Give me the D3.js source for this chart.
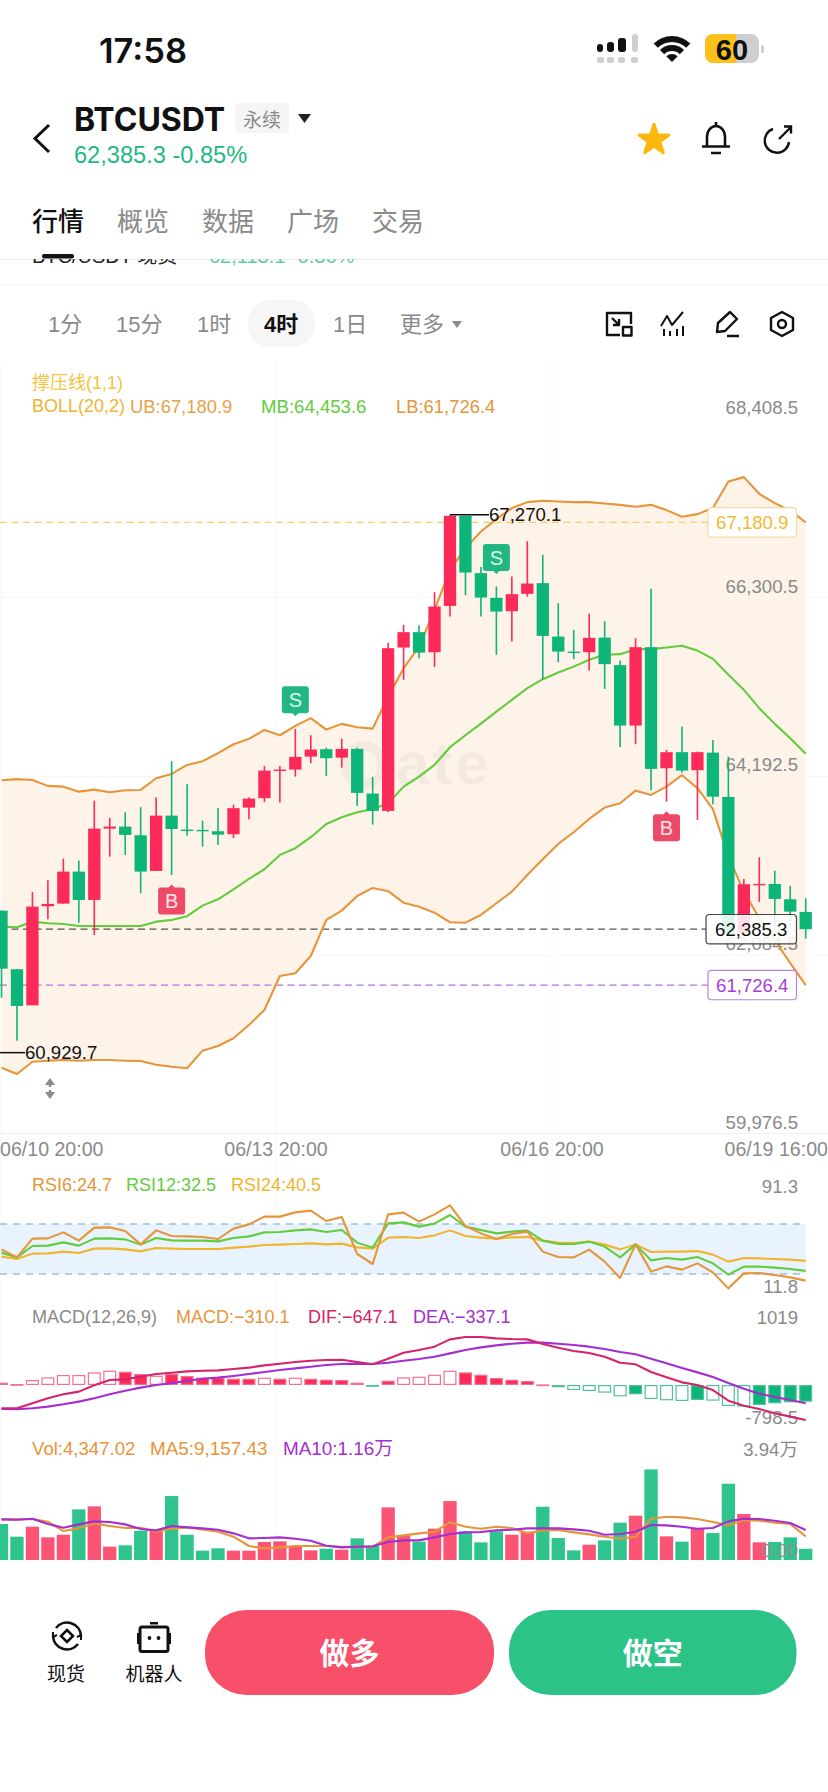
<!DOCTYPE html>
<html lang="zh">
<head>
<meta charset="utf-8">
<title>BTCUSDT 4时</title>
<script src="https://cdn.jsdelivr.net/npm/d3@7/dist/d3.min.js"></script>
<style>
html,body{margin:0;padding:0;background:#fff;overflow:hidden}
svg{display:block}
text{font-family:"Liberation Sans","Noto Sans CJK SC",sans-serif}
</style>
</head>
<body>
<svg id="app" width="828" height="1792" viewBox="0 0 828 1792"></svg>
<script>
// 4h candles, oldest first
const candleOpen = [62604,61913,61488,62656,62687,63064,62730,63571,63595,63493,63072,63724,63559,63556,63540,63505,63819,63930,64255,64267,64420,64507,64408,64511,63984,63780,65706,65887,65651,66197,67259,66583,66292,66135,66339,66465,65835,65658,65651,65823,65498,64786,65710,64283,64472,64260,64467,63945,62341,62913,62919,62738,62589];
const candleHigh = [62604,61915,62825,62962,63217,63194,63901,63697,63764,63823,63937,64366,64095,63665,63815,63854,63937,64310,64310,64747,64672,64526,64632,64526,64181,65761,65973,65970,66359,67270.1,67259,66654,66425,66543,66960,66799,66229,65914,66103,66017,65552,65816,66398,64499,64774,64479,64617,64420,62978,63234,63076,62895,62750];
const candleLow = [61578,61071,61488,62503,62687,62462,62317,63241,63261,62809,63072,63025,63488,63359,63379,63461,63682,63882,63878,64184,64342,64192,64290,63839,63618,63768,65325,65581,65478,66071,66324,66071,65620,65776,66307,65333,65533,65569,65434,65218,64534,64566,64024,63889,64231,63674,63859,62341,62341,62706,62415,62415,62274];
const candleClose = [61920,61480,62651,62683,63064,62730,63571,63595,63497,63064,63724,63567,63552,63547,63500,63812,63925,64255,64267,64417,64503,64401,64511,63992,63780,65698,65887,65646,66189,67259,66590,66295,66130,66335,66460,65843,65658,65651,65820,65510,64786,65710,64275,64472,64255,64472,63948,62341,62915,62919,62742,62592,62385.3];

// Bollinger bands
const bollUpper = [64142,64154,64145,64075,64066,64007,64031,64000,64024,64027,64165,64216,64322,64366,64460,64566,64629,64735,64672,64782,64873,64739,64806,64767,64750,65128,65463,65717,66150,66622,66878,67074,67220,67350,67420,67436,67428,67420,67420,67404,67388,67365,67388,67326,67247,67279,67350,67663,67715,67518,67408,67321,67180.9];
const bollMid = [62415,62408,62474,62455,62447,62423,62423,62423,62423,62423,62474,62494,62538,62663,62738,62856,62978,63092,63261,63340,63470,63626,63705,63764,63800,63870,64066,64184,64322,64531,64672,64809,64951,65089,65227,65333,65411,65481,65561,65620,65628,65687,65687,65706,65726,65670,65572,65384,65207,64991,64806,64637,64453.6];
const bollLower = [60752,60678,60823,60835,60843,60835,60843,60843,60835,60831,60788,60764,60745,60953,61008,61099,61256,61433,61834,61866,62070,62494,62604,62777,62872,62833,62698,62651,62580,62467,62462,62553,62691,62828,63025,63210,63391,63528,63685,63819,63870,64019,63968,64066,64201,64047,63800,63241,62828,62514,62258,61984,61726.4];

// RSI
const rsi6 = [49.7,43.3,58.3,58.5,63.3,56.7,67.1,67.3,64.4,53.7,64.9,60.4,60.1,59.6,58,66.3,69.7,75.9,75.9,79.3,80.7,72.4,75.6,46,38,77.7,79.1,71.9,77.7,84.9,68.4,62.5,58,62,63.9,47.9,43.6,43.3,49.5,39.9,26.8,53.7,31.9,36.1,33.5,38.5,31.3,18.5,30.5,30.8,29.2,27.3,24.7];
const rsi12 = [47.1,43.3,52.4,52.7,55.3,52.7,58.3,58.5,57.7,53.5,58.8,56.9,56.7,56.7,56.1,58.8,60.1,63.3,63.6,64.9,65.7,63.6,65.2,55.1,51.1,70.5,71.3,67.9,70.3,77.2,67.9,65.2,62.5,63.9,64.7,56.7,54,54,55.9,51.9,43.3,53.7,40.9,42.8,41.5,43.6,38.5,29.5,35.9,35.9,35.1,34,32.5];
const rsi24 = [43.9,42,46.3,46.5,47.9,46.8,50.3,50.5,49.7,48.1,50.8,50.3,50,50,50,51.1,51.9,53.2,53.5,54,54.5,53.7,54.3,51.3,50.3,59.1,59.6,58.8,60.9,64.9,60.4,59.1,58.3,59.3,59.6,56.7,55.1,54.8,55.9,53.5,49.7,53.7,47.6,47.9,47.9,48.4,45.5,39.9,42.8,42.5,42,41.5,40.5];

// MACD
const dif = [-432,-432,-339,-247,-173,-123,-6,93,105,154,204,228,253,265,271,296,321,364,395,426,450,463,469,426,383,487,598,648,710,845,888,888,864,851,845,759,691,629,592,524,413,383,241,142,49,0,-93,-290,-383,-444,-524,-586,-647.1];
const dea = [-444,-450,-432,-401,-358,-308,-247,-173,-105,-49,0,31,80,117,136,167,204,241,278,308,339,370,389,395,389,413,450,481,524,586,648,697,734,765,784,784,765,740,710,666,611,568,487,401,315,234,148,37,-68,-160,-222,-278,-337.1];
const macdHist = [43,18,93,142,185,185,234,265,247,204,173,204,167,136,136,117,117,136,117,136,117,99,93,43,-6,80,142,154,191,265,234,191,130,99,74,12,-43,-93,-111,-142,-210,-173,-259,-284,-296,-278,-290,-389,-401,-370,-339,-321,-310.1];
const macdSolidBars = [8,9,11,12,13,14,15,16,18,20,21,22,23,25,30,31,32,33,34,36,41,45,49,50,51,52];

// Volume
const volume = [13930,9030,12900,8770,9800,19610,20770,5160,5680,11350,11350,24770,9800,3610,4520,3610,3610,6970,7220,5420,3740,4390,4000,8390,5420,20380,9550,7100,12130,22830,11090,6840,11090,9800,10970,20640,8510,3740,5930,7610,14450,17160,35090,9160,7100,12130,10450,29540,17800,6840,6970,8770,4347.02];
const volMa5 = [15738,15738,15867,14835,11223,12255,14190,13158,12384,12513,10965,12126,12642,11868,10965,9030,5418,4515,4902,5418,5418,5418,5160,5160,5160,8772,9546,10320,10965,14577,12900,12126,12900,12384,10320,11481,11610,10707,9933,9030,8256,9030,15996,16770,16512,15867,14706,13416,15480,15222,14448,13932,9157.43];
const volMa10 = [15738,15609,15996,13932,12513,13803,14964,14706,13803,11997,11481,13158,12642,12255,11739,10320,8385,8514,8772,8256,7482,5547,4902,5160,5289,6966,7611,7611,8772,10062,10707,10836,11481,11739,12255,12255,12255,11868,11352,9804,10062,10965,13545,13416,12900,12126,12384,14964,15996,15867,15222,14319,11600];

// Axis labels and signals
const priceTicks = [68408.5,66300.5,64192.5,62084.5,59976.5];
const timeLabels = ["06/10 20:00","06/13 20:00","06/16 20:00","06/19 16:00"];
const sellSignals = [19,32];
const buySignals = [11,43];
const lastPrice = 62385.3, upperBand = 67180.9, lowerBand = 61726.4;
const swingHigh = 67270.1, swingLow = 60929.7;
const rsiBand = [70,30];
const tabLabels = ["行情","概览","数据","广场","交易"];
const intervalLabels = ["1分","15分","1时","4时","1日","更多"];

const RED="#fb2a58", GREEN="#0db578", VOL_RED="#fb5475", VOL_GREEN="#2fc48d";
const ORANGE="#e6953a", LIME="#62cc3c", YELLOW="#f0b52e", PURPLE="#a32fd0", CRIMSON="#d4246c", GREY="#8a8a8a";

const svg = d3.select("#app");
const n = candleClose.length;
const x = d3.scaleLinear().domain([0,n-1]).range([1.5,805.7]);
const yPrice = d3.scaleLinear().domain([59976.5,68408.5]).range([1133.5,418.3]);
const yRsi = d3.scaleLinear().domain([30,70]).range([1274,1224]);
const yMacd = d3.scaleLinear().domain([-337.1,0]).range([1403.2,1385]);
const yVol = d3.scaleLinear().domain([0,39400]).range([1560,1458.3]);
const xTime = d3.scalePoint().domain(timeLabels).range([0,828]);
const idx = d3.range(n);

function label(g,px,py,str,opt={}){
  return g.append("text").attr("x",px).attr("y",py)
    .attr("dominant-baseline","central")
    .attr("text-anchor",opt.anchor||"start")
    .attr("font-size",opt.size||18.4)
    .attr("font-weight",opt.weight||400)
    .attr("fill",opt.fill||GREY)
    .style("font-family",opt.family||null)
    .text(str);
}
const seriesLine = (vals,y)=>d3.line().x(i=>x(i)).y(i=>y(vals[i]));
function drawLine(g,vals,y,color,w){
  g.append("path").attr("d",seriesLine(vals,y)(idx)).attr("fill","none")
    .attr("stroke",color).attr("stroke-width",w).attr("stroke-linejoin","round");
}
const CJK='"Noto Sans CJK SC",sans-serif';

/* ---------- status bar ---------- */
const status = svg.append("g");
label(status,99,50,"17:58",{size:34.5,weight:600,fill:"#111",family:"Inter,sans-serif"});
[[597,44,6],[607,42,7],[618,38,8]].forEach(([bx,by,bw])=>status.append("rect").attr("x",bx).attr("y",by).attr("width",bw).attr("height",52-by).attr("rx",3).attr("fill","#111"));
status.append("rect").attr("x",632).attr("y",34).attr("width",6).attr("height",18).attr("rx",3).attr("fill","#cfcfcf");
[597,607,618,631].forEach(bx=>status.append("rect").attr("x",bx).attr("y",57).attr("width",7).attr("height",6).attr("rx",2).attr("fill","#cfcfcf"));
const wifiArc=d3.arc().startAngle(-Math.PI/4).endAngle(Math.PI/4);
[[20,26],[11,17],[0,8]].forEach(([r0,r1])=>status.append("path").attr("transform","translate(672,62)")
  .attr("d",wifiArc({innerRadius:r0,outerRadius:r1})).attr("fill","#111"));
status.append("rect").attr("x",705).attr("y",34).attr("width",54).attr("height",29).attr("rx",8).attr("fill","#cfcfcf");
status.append("path").attr("d","M713 34H736V63H713a8 8 0 0 1-8-8V42a8 8 0 0 1 8-8Z").attr("fill","#fcc21b");
status.append("rect").attr("x",761).attr("y",45).attr("width",3).attr("height",8).attr("rx",1.5).attr("fill","#cfcfcf");
label(status,732,49.5,"60",{size:29,weight:700,fill:"#111",anchor:"middle"});

/* ---------- title row ---------- */
const head = svg.append("g");
head.append("path").attr("d","M49 125L35 138.5L49 152").attr("fill","none").attr("stroke","#111").attr("stroke-width",3);
label(head,74,119,"BTCUSDT",{size:32,weight:700,fill:"#111",family:"Inter,sans-serif"});
head.append("rect").attr("x",235).attr("y",103).attr("width",54).attr("height",30).attr("rx",3).attr("fill","#f5f5f5");
label(head,262,118,"永续",{size:19,fill:"#8a8a8a",anchor:"middle",family:CJK});
head.append("path").attr("d","M298 114H311L304.5 123Z").attr("fill","#222");
label(head,74,155,"62,385.3 -0.85%",{size:23.6,fill:"#1eb884"});
head.append("path").attr("transform","translate(654,140)").attr("d",d3.symbol().type(d3.symbolStar).size(280)())
  .attr("fill","#fbb70c").attr("stroke","#fbb70c").attr("stroke-width",3).attr("stroke-linejoin","round");
head.append("path").attr("d","M716 122V126M707 146V136.5a9 10.5 0 0 1 18 0V146M702 146.5H730M711 153H721")
  .attr("fill","none").attr("stroke","#111").attr("stroke-width",2.6);
head.append("path").attr("d","M773 129A12.2 12.2 0 1 0 789 142M779 139L791 127M784 126.5H791V133.5")
  .attr("fill","none").attr("stroke","#111").attr("stroke-width",2.4);

/* ---------- tab row ---------- */
const tabs = svg.append("g");
const tabX = d3.scalePoint().domain(tabLabels).range([32,372]);
tabLabels.forEach((t,i)=>label(tabs,tabX(t),219,t,{size:26,fill:i===0?"#111":"#8a8a8a",weight:i===0?500:400,family:CJK}));
svg.append("clipPath").attr("id","under").append("rect").attr("x",0).attr("y",259).attr("width",828).attr("height",8);
const under = svg.append("g").attr("clip-path","url(#under)");
under.append("text").attr("x",32).attr("y",263).attr("font-size",20).attr("fill","#222").text("BTC/USDT 现货");
under.append("text").attr("x",209).attr("y",263).attr("font-size",20).attr("fill","#5fcca5").text("62,113.1 -0.36%");
tabs.append("rect").attr("x",42).attr("y",254).attr("width",32).attr("height",4.5).attr("rx",2).attr("fill","#111");
tabs.append("line").attr("x1",0).attr("x2",828).attr("y1",259.5).attr("y2",259.5).attr("stroke","#ececec");
tabs.append("line").attr("x1",0).attr("x2",828).attr("y1",285).attr("y2",285).attr("stroke","#f5f5f5");

/* ---------- interval row ---------- */
const bar = svg.append("g");
bar.append("rect").attr("x",248).attr("y",300).attr("width",67).attr("height",47).attr("rx",22).attr("fill","#f6f6f6");
[[48,0],[116,1],[197,2],[264,3],[333,4],[400,5]].forEach(([px,i])=>label(bar,px,324,intervalLabels[i],{size:22,fill:i===3?"#111":"#8a8a8a",weight:i===3?600:400}));
bar.append("path").attr("d","M452 321H462L457 328Z").attr("fill","#8a8a8a");
const tool = bar.append("g").attr("fill","none").attr("stroke","#111").attr("stroke-width",2.4).attr("stroke-linejoin","round");
tool.append("path").attr("d","M620 335H607V313H631V324M612 318L619 325M619 319V325H613");
tool.append("rect").attr("x",623).attr("y",327).attr("width",8.5).attr("height",8.5);
tool.append("path").attr("d","M661 326L667 316L672 325L683 312M664 329V336M670 331V336M677 329V336M683 326V336").attr("stroke-width",2);
tool.append("path").attr("d","M717 332L718 323L730 312L737 319L725 331ZM727 336H739");
tool.append("path").attr("d","M782 312L793 318V330L782 336L771 330V318Z");
tool.append("circle").attr("cx",782).attr("cy",324).attr("r",4);

/* ---------- pane grid ---------- */
const grid = svg.append("g").attr("stroke","#f8f8f8");
timeLabels.slice(0,3).forEach(t=>{
  const gx=Math.max(1,xTime(t));
  grid.append("line").attr("x1",gx).attr("x2",gx).attr("y1",362).attr("y2",1560);
});
grid.append("line").attr("x1",0).attr("x2",828).attr("y1",1133.5).attr("y2",1133.5).attr("stroke","#f0f0f0");

/* ---------- price pane ---------- */
const axisPrice = svg.append("g").attr("transform","translate(828,0)")
  .call(d3.axisLeft(yPrice).tickValues(priceTicks.slice(1,4)).tickFormat(d3.format(",.1f")).tickSize(828).tickPadding(0));
axisPrice.select(".domain").remove();
axisPrice.selectAll("line").attr("stroke","#f8f6f3");
axisPrice.selectAll("text").remove();
const band = svg.append("g");
band.append("path").attr("fill","#fdf3e8")
  .attr("d",d3.area().x(i=>x(i)).y0(i=>yPrice(bollLower[i])).y1(i=>yPrice(bollUpper[i]))(idx));

/* watermark */
const mark = svg.append("g").attr("opacity",0.035);
mark.append("circle").attr("cx",364).attr("cy",765).attr("r",19).attr("fill","none").attr("stroke","#000").attr("stroke-width",9);
label(mark,396,763,"ate",{size:60,weight:700,fill:"#000"}).attr("letter-spacing",3);

/* price scale labels sit just above their grid lines */
const axisText = svg.append("g");
priceTicks.forEach(p=>label(axisText,798,yPrice(p)-11,d3.format(",.1f")(p),{size:18.6,anchor:"end"}));

const pl = svg.append("g");
function hDash(g,price,color,x2){
  g.append("line").attr("x1",0).attr("x2",x2).attr("y1",yPrice(price)).attr("y2",yPrice(price))
    .attr("stroke",color).attr("stroke-width",1.3).attr("stroke-dasharray","7 4.5");
}
hDash(pl,upperBand,"#f2cf6b",708);
hDash(pl,lastPrice,"#555",706);
hDash(pl,lowerBand,"#b96fe0",708);
drawLine(pl,bollUpper,yPrice,ORANGE,2.1);
drawLine(pl,bollMid,yPrice,LIME,2.1);
drawLine(pl,bollLower,yPrice,ORANGE,2.1);

const bodyW=12.3;
const candles = pl.selectAll("g.c").data(idx).join("g").attr("class","c")
  .attr("fill",i=>candleClose[i]>=candleOpen[i]?RED:GREEN)
  .attr("stroke",i=>candleClose[i]>=candleOpen[i]?RED:GREEN);
candles.append("line").attr("x1",i=>x(i)).attr("x2",i=>x(i))
  .attr("y1",i=>yPrice(candleHigh[i])).attr("y2",i=>yPrice(candleLow[i])).attr("stroke-width",1.6);
candles.append("rect").attr("x",i=>x(i)-bodyW/2).attr("width",bodyW).attr("stroke","none")
  .attr("y",i=>yPrice(Math.max(candleOpen[i],candleClose[i])))
  .attr("height",i=>Math.max(1.4,Math.abs(yPrice(candleOpen[i])-yPrice(candleClose[i]))));

/* swing markers */
pl.append("line").attr("x1",450).attr("x2",489).attr("y1",yPrice(swingHigh)).attr("y2",yPrice(swingHigh)).attr("stroke","#111").attr("stroke-width",1.5);
label(pl,489,yPrice(swingHigh),d3.format(",.1f")(swingHigh),{size:18.6,fill:"#111"});
pl.append("line").attr("x1",0).attr("x2",25).attr("y1",yPrice(swingLow)).attr("y2",yPrice(swingLow)).attr("stroke","#111").attr("stroke-width",1.5);
label(pl,25,yPrice(swingLow),d3.format(",.1f")(swingLow),{size:18.6,fill:"#111"});

/* buy and sell flags */
sellSignals.forEach(i=>{
  const cx=x(i), tip=yPrice(candleHigh[i])-9.5;
  const f=pl.append("g");
  f.append("path").attr("fill","#22b782").attr("d",`M${cx-13.5} ${tip-30}a3 3 0 0 1 3-3h21a3 3 0 0 1 3 3v21a3 3 0 0 1-3 3h-7.5l-3 3l-3-3h-7.5a3 3 0 0 1-3-3Z`);
  label(f,cx,tip-19.5,"S",{size:20,fill:"#d9f7ea",anchor:"middle"});
});
buySignals.forEach(i=>{
  const cx=x(i), tip=yPrice(candleLow[i])+9.5;
  const f=pl.append("g");
  f.append("path").attr("fill","#ee4a68").attr("d",`M${cx-13.5} ${tip+6}a3 3 0 0 1 3-3h7.5l3-3l3 3h7.5a3 3 0 0 1 3 3v21a3 3 0 0 1-3 3h-21a3 3 0 0 1-3-3Z`);
  label(f,cx,tip+16.5,"B",{size:20,fill:"#ffe6ea",anchor:"middle"});
});

/* price tags */
function tag(px,w,price,stroke,color,fill){
  const cy=yPrice(price), g=svg.append("g");
  g.append("rect").attr("x",px).attr("y",cy-14.7).attr("width",w).attr("height",29.4).attr("rx",3.5)
    .attr("fill",fill).attr("stroke",stroke).attr("stroke-width",1.2);
  label(g,px+w/2,cy,d3.format(",.1f")(price),{size:18.6,fill:color,anchor:"middle"});
}
tag(708,88.5,upperBand,"#f4dca0","#efba33","#fff");
tag(706,90.5,lastPrice,"#444","#111","rgba(255,255,255,.86)");
tag(708,88.5,lowerBand,"#b982e0","#a640d8","#fff");

/* resize handle */
const grip=svg.append("g").attr("fill","#8a8a8a");
grip.append("path").attr("d","M50 1078L55 1085H51.2V1087H48.8V1085H45Z");
grip.append("path").attr("d","M50 1099L55 1092H51.2V1090H48.8V1092H45Z");

/* legends */
const leg = svg.append("g");
label(leg,32,383,"撑压线(1,1)",{size:18,fill:"#f3c445"});
label(leg,32,406,"BOLL(20,2)",{size:18,fill:YELLOW});
label(leg,130,406,"UB:67,180.9",{fill:"#e8a14a"});
label(leg,261,406,"MB:64,453.6",{size:18.6,fill:LIME});
label(leg,396,406,"LB:61,726.4",{fill:ORANGE});

/* ---------- time axis ---------- */
const tg = svg.append("g");
timeLabels.forEach((t,i)=>label(tg,xTime(t),1149,t,{size:19.6,anchor:i===0?"start":i===3?"end":"middle"}));

/* ---------- RSI pane ---------- */
const rs = svg.append("g");
rs.append("rect").attr("x",0).attr("width",x(n-1)).attr("y",yRsi(70)).attr("height",yRsi(30)-yRsi(70)).attr("fill","#e9f3fd");
rsiBand.forEach(v=>rs.append("line").attr("x1",0).attr("x2",x(n-1)).attr("y1",yRsi(v)).attr("y2",yRsi(v))
  .attr("stroke","#9fc0de").attr("stroke-width",1.4).attr("stroke-dasharray","7 6"));
label(rs,798,1186,"91.3",{anchor:"end",size:18.6});
label(rs,798,1286,"11.8",{anchor:"end",size:18.6});
drawLine(rs,rsi24,yRsi,YELLOW,2.1);
drawLine(rs,rsi12,yRsi,LIME,2.1);
drawLine(rs,rsi6,yRsi,ORANGE,2.1);
label(rs,32,1185,"RSI6:24.7",{size:18,fill:ORANGE});
label(rs,126,1185,"RSI12:32.5",{size:18,fill:LIME});
label(rs,231,1185,"RSI24:40.5",{size:18,fill:YELLOW});

/* ---------- MACD pane ---------- */
const mc = svg.append("g");
label(mc,32,1317,"MACD(12,26,9)",{size:18});
label(mc,176,1317,"MACD:−310.1",{size:18,fill:"#e8953a"});
label(mc,308,1317,"DIF:−647.1",{size:18,fill:CRIMSON});
label(mc,413,1317,"DEA:−337.1",{size:18,fill:PURPLE});
label(mc,798,1317,"1019",{anchor:"end",size:18.6});
label(mc,798,1417,"-798.5",{anchor:"end",size:18.6});
const histW=13;
mc.selectAll("rect.h").data(idx).join("rect").attr("class","h")
  .attr("x",i=>x(i)-histW/2+.6).attr("width",histW-1.2)
  .attr("y",i=>yMacd(Math.max(0,macdHist[i]))+.6)
  .attr("height",i=>Math.max(.6,Math.abs(yMacd(macdHist[i])-yMacd(0))-1.2))
  .attr("fill",i=>macdSolidBars.includes(i)?(macdHist[i]>=0?RED:GREEN):"#fff")
  .attr("stroke",i=>macdHist[i]>=0?"#f4708f":"#4fc29b")
  .attr("stroke-width",1.2);
drawLine(mc,dea,yMacd,PURPLE,2.1);
drawLine(mc,dif,yMacd,CRIMSON,2.1);

/* ---------- volume pane ---------- */
const vg = svg.append("g");
label(vg,32,1448,"Vol:4,347.02",{size:18.6,fill:ORANGE});
label(vg,150,1448,"MA5:9,157.43",{size:18.9,fill:ORANGE});
label(vg,283,1448,"MA10:1.16万",{size:18.9,fill:PURPLE});
label(vg,798,1449,"3.94万",{anchor:"end",size:18.6});
const volW=13.3;
vg.selectAll("rect.v").data(idx).join("rect").attr("class","v")
  .attr("x",i=>x(i)-volW/2).attr("width",volW)
  .attr("y",i=>yVol(volume[i])).attr("height",i=>yVol(0)-yVol(volume[i]))
  .attr("fill",i=>candleClose[i]>=candleOpen[i]?VOL_RED:VOL_GREEN);
drawLine(vg,volMa5,yVol,ORANGE,2.1);
drawLine(vg,volMa10,yVol,PURPLE,2.1);
label(vg,798,1550,"0.00",{anchor:"end",size:18.6,fill:"#8f8f8f"});

/* ---------- bottom action bar ---------- */
const foot = svg.append("g");
const spot = foot.append("g").attr("fill","none").attr("stroke","#111").attr("stroke-width",2.6);
spot.append("path").attr("d","M56 1628A14 14 0 0 1 81 1636M78 1644A14 14 0 0 1 53 1636");
spot.append("path").attr("d","M53 1632L53 1637L57 1635M81 1640L81 1635L77 1637").attr("stroke-width",2);
spot.append("path").attr("d","M67 1630L73 1636L67 1642L61 1636Z").attr("stroke-width",2.6);
label(foot,66,1672,"现货",{size:19,fill:"#111",anchor:"middle",family:CJK});
const bot = foot.append("g");
bot.append("rect").attr("x",140).attr("y",1627).attr("width",28).attr("height",24.5).attr("rx",2).attr("fill","none").attr("stroke","#111").attr("stroke-width",3);
bot.append("rect").attr("x",150).attr("y",1622).attr("width",8).attr("height",2.5).attr("fill","#111");
bot.append("rect").attr("x",137).attr("y",1633).attr("width",2).attr("height",11).attr("fill","#111");
bot.append("rect").attr("x",169).attr("y",1633).attr("width",2).attr("height",11).attr("fill","#111");
bot.append("circle").attr("cx",149.5).attr("cy",1638).attr("r",1.9).attr("fill","#111");
bot.append("circle").attr("cx",158.5).attr("cy",1638).attr("r",1.9).attr("fill","#111");
label(foot,154,1672,"机器人",{size:19,fill:"#111",anchor:"middle",family:CJK});
[[205,289,"#f8506a","做多"],[509,287.5,"#2cc486","做空"]].forEach(([bx,bw,col,txt])=>{
  foot.append("rect").attr("x",bx).attr("y",1610).attr("width",bw).attr("height",85).attr("rx",42).attr("ry",40).attr("fill",col);
  label(foot,bx+bw/2,1651,txt,{size:30,weight:700,fill:"#fff",anchor:"middle",family:CJK});
});
</script>
</body>
</html>
